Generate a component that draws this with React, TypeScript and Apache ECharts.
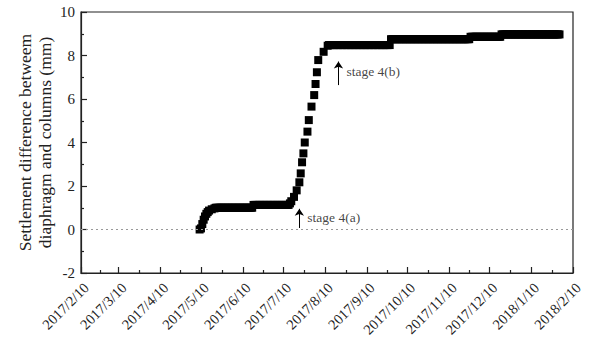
import React, { useEffect, useRef } from "react";
import * as echarts from "echarts";

// ---- data ----
const xTickLabels = [
  "2017/2/10", "2017/3/10", "2017/4/10", "2017/5/10", "2017/6/10", "2017/7/10",
  "2017/8/10", "2017/9/10", "2017/10/10", "2017/11/10", "2017/12/10", "2018/1/10", "2018/2/10",
];
const yTicks = [-2, 0, 2, 4, 6, 8, 10];

// initial rise (date, mm)
const riseA: [string, number][] = [
  ["2017/5/9", 0], ["2017/5/10", 0.05], ["2017/5/11", 0.25], ["2017/5/12", 0.45],
  ["2017/5/13", 0.6], ["2017/5/14", 0.72], ["2017/5/15", 0.8], ["2017/5/16", 0.87],
  ["2017/5/18", 0.93], ["2017/5/20", 0.97],
];
// steep rise during stage 4
const riseB: [string, number][] = [
  ["2017/7/15", 1.2], ["2017/7/16", 1.3], ["2017/7/18", 1.5], ["2017/7/20", 1.8],
  ["2017/7/22", 2.17], ["2017/7/23", 2.58], ["2017/7/24", 3.09], ["2017/7/25", 3.5],
  ["2017/7/26", 4.0], ["2017/7/28", 4.5], ["2017/7/29", 5.03], ["2017/7/31", 5.65],
  ["2017/8/2", 6.18], ["2017/8/3", 6.69], ["2017/8/4", 7.23], ["2017/8/5", 7.79],
  ["2017/8/9", 8.17], ["2017/8/12", 8.45],
];
// daily readings that stay constant: [from, to, mm]
const plateaus: [string, string, number][] = [
  ["2017/5/21", "2017/6/17", 1.0],
  ["2017/6/18", "2017/7/14", 1.13],
  ["2017/8/13", "2017/9/27", 8.48],
  ["2017/9/28", "2017/11/25", 8.75],
  ["2017/11/26", "2017/12/18", 8.86],
  ["2017/12/19", "2018/1/31", 8.97],
];
// annotations: [date, label y, arrow from, arrow to, text]
const annotations: [string, number, number, number, string][] = [
  ["2017/7/22", 0.57, 0.07, 0.95, "stage 4(a)"],
  ["2017/8/20", 7.26, 6.64, 7.72, "stage 4(b)"],
];

const ts = (s: string) => {
  const [y, m, d] = s.split("/").map(Number);
  return new Date(y, m - 1, d).getTime();
};

function buildData(): [number, number][] {
  const out: [number, number][] = [];
  riseA.forEach(([d, v]) => out.push([ts(d), v]));
  riseB.forEach(([d, v]) => out.push([ts(d), v]));
  plateaus.forEach(([a, b, v]) => {
    const [y, m, d] = a.split("/").map(Number);
    const cur = new Date(y, m - 1, d);
    const end = ts(b);
    while (cur.getTime() <= end) {
      out.push([cur.getTime(), v]);
      cur.setDate(cur.getDate() + 1);
    }
  });
  out.sort((p, q) => p[0] - q[0]);
  return out;
}

const FONT = "Liberation Serif";

export default function App() {
  const ref = useRef<HTMLDivElement>(null);
  useEffect(() => {
    if (!ref.current) return;
    const chart = echarts.init(ref.current, undefined, { renderer: "svg" });
    const major = xTickLabels.map(ts);
    const minor = major.slice(0, -1).map((t, i) => (t + major[i + 1]) / 2);
    const labelFor = (v: number) => {
      let best = 0;
      major.forEach((t, i) => {
        if (Math.abs(t - v) < Math.abs(major[best] - v)) best = i;
      });
      return xTickLabels[best];
    };

    chart.setOption({
      animation: false,
      textStyle: { fontFamily: FONT },
      grid: {
        left: 81, right: 24, top: 12, bottom: 72,
        show: true, borderColor: "#222", borderWidth: 1.2,
      },
      xAxis: [
        {
          type: "value",
          scale: true,
          min: major[0],
          max: major[major.length - 1],
          axisLine: { show: true, onZero: false, lineStyle: { color: "#222", width: 1.2 } },
          axisTick: { show: true, inside: true, length: 6, customValues: major, lineStyle: { color: "#222", width: 1.2 } },
          axisLabel: {
            show: true, customValues: major, rotate: 45, fontSize: 14.5, fontFamily: FONT,
            color: "#222", margin: 7, verticalAlign: "top",
            formatter: (v: number) => labelFor(v),
          },
          splitLine: { show: false },
        },
        {
          type: "value",
          scale: true,
          min: major[0],
          max: major[major.length - 1],
          position: "bottom",
          axisLine: { show: false, onZero: false },
          axisTick: { show: true, inside: true, length: 3, customValues: minor, lineStyle: { color: "#222", width: 1.2 } },
          axisLabel: { show: false },
          splitLine: { show: false },
        },
      ],
      yAxis: {
        type: "value",
        min: yTicks[0],
        max: yTicks[yTicks.length - 1],
        interval: 2,
        name: "Settlement difference betweem\ndiaphragm and columns (mm)",
        nameLocation: "middle",
        nameGap: 26,
        nameMoveOverlap: false,
        nameTextStyle: { fontSize: 17.5, fontFamily: FONT, color: "#222", lineHeight: 20 },
        axisLine: { show: true, onZero: false, lineStyle: { color: "#222", width: 1.2 } },
        axisTick: { show: true, inside: true, length: 6, lineStyle: { color: "#222", width: 1.2 } },
        minorTick: { show: true, splitNumber: 2, length: 3, lineStyle: { color: "#222", width: 1.2 } },
        axisLabel: { fontSize: 15, fontFamily: FONT, color: "#222", margin: 6 },
        splitLine: { show: false },
      },
      series: [
        {
          type: "scatter",
          symbol: "rect",
          symbolSize: 8,
          itemStyle: { color: "#000", opacity: 1 },
          data: buildData(),
          markLine: {
            silent: true,
            symbol: ["none", "none"],
            label: { show: false },
            lineStyle: { color: "#999", type: [2, 3], width: 1.2 },
            data: [{ yAxis: 0 }],
          },
        },
        {
          type: "scatter",
          symbolSize: 0,
          silent: true,
          data: annotations.map(([d, y]) => [ts(d), y]),
          label: {
            show: true,
            position: "right",
            distance: 8,
            fontSize: 13.5,
            fontFamily: FONT,
            color: "#111",
            formatter: (p: any) => annotations[p.dataIndex][4],
          },
          markLine: {
            silent: true,
            symbol: ["none", "arrow"],
            symbolSize: 7,
            label: { show: false },
            lineStyle: { color: "#000", type: "solid", width: 1 },
            itemStyle: { color: "#000" },
            data: annotations.map(([d, , a, b]) => [
              { coord: [ts(d), a] },
              { coord: [ts(d), b] },
            ]),
          },
        },
      ],
    });
    return () => chart.dispose();
  }, []);
  return (
    <div
      ref={ref}
      style={{ position: "absolute", left: 0, top: 0, width: 597, height: 345 }}
    />
  );
}
